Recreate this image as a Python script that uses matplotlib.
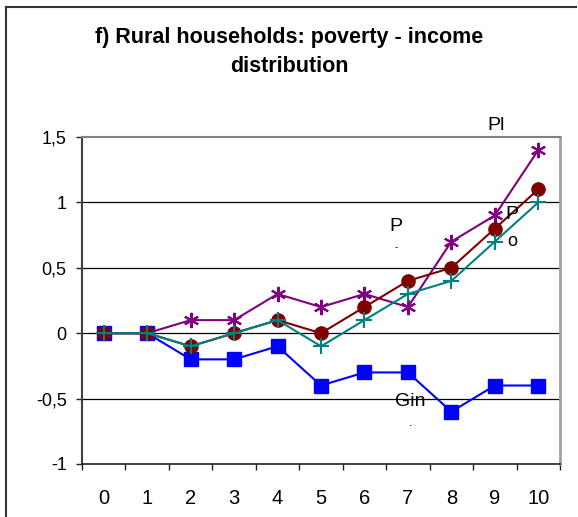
import matplotlib.pyplot as plt
from matplotlib.lines import Line2D

plt.rcParams['font.family'] = ['Liberation Sans', 'DejaVu Sans']

x = list(range(11))
xLabels = [str(i) for i in x]
gini = [0, 0, -0.2, -0.2, -0.1, -0.4, -0.3, -0.3, -0.6, -0.4, -0.4]
p2 = [0, 0, 0.1, 0.1, 0.3, 0.2, 0.3, 0.2, 0.7, 0.9, 1.4]
p1 = [0, 0, -0.1, 0, 0.1, 0, 0.2, 0.4, 0.5, 0.8, 1.1]
p0 = [0, 0, -0.1, 0, 0.1, -0.1, 0.1, 0.3, 0.4, 0.7, 1.0]
yTicks = [-1, -0.5, 0, 0.5, 1, 1.5]
yLabels = ['-1', '-0,5', '0', '0,5', '1', '1,5']

fig = plt.figure(figsize=(5.78, 5.17), dpi=100)
ax = fig.add_axes([82 / 578, 53 / 517, 478 / 578, 327 / 517])

ax.plot(x, gini, color='#0000ff', marker='s', markersize=10, lw=1.5, zorder=3)
ax.plot(x, p2, color='#800080', marker=(6, 2, 0), markersize=11, mew=1.5, lw=1.5, zorder=4)
ax.plot(x, p1, color='#800000', marker='o', markersize=9.5, lw=1.5, zorder=5)
ax.plot(x, p0, color='#008080', marker='+', markersize=11, mew=1.5, lw=1.5, zorder=6)

# truncated series labels
ax.text(9.02, 1.59, 'Pl', fontsize=14, ha='center', va='center', clip_on=False)
ax.text(6.73, 0.815, 'P', fontsize=14, ha='center', va='center')
ax.text(6.73, 0.66, '-', fontsize=7, ha='center', va='center')
ax.text(9.4, 0.905, 'P', fontsize=14, ha='center', va='center', zorder=7)
ax.text(9.4, 0.70, 'o', fontsize=13, ha='center', va='center', zorder=1)
ax.text(7.05, -0.52, 'Gin', fontsize=14, ha='center', va='center')
ax.text(7.05, -0.685, '.', fontsize=9, ha='center', va='center')

ax.set_xlim(-0.5, 10.5)
ax.set_ylim(-1, 1.5)
ax.set_xticks([i - 0.5 for i in range(12)])
ax.set_xticklabels([])
ax.set_xticks(x, minor=True)
ax.set_xticklabels(xLabels, minor=True)
ax.tick_params(axis='x', which='major', direction='out', length=4, width=1, color='#202020')
ax.tick_params(axis='x', which='minor', length=0, pad=18, labelsize=14.5)
ax.set_yticks(yTicks)
ax.set_yticklabels(yLabels)
ax.tick_params(axis='y', direction='out', length=4, width=1, color='#202020', pad=7, labelsize=13)

for yv in yTicks[1:-1]:
    ax.axhline(yv, color='black', lw=0.9, zorder=0)

ax.spines['left'].set_color('#404040')
ax.spines['left'].set_linewidth(1.5)
ax.spines['bottom'].set_color('#202020')
ax.spines['bottom'].set_linewidth(1.2)
ax.spines['top'].set_color('#808080')
ax.spines['top'].set_linewidth(1.5)
ax.spines['right'].set_color('#a0a0a0')
ax.spines['right'].set_linewidth(2)

fig.text(0.5, 1 - 38 / 517, 'f) Rural households: poverty - income', fontsize=15.5,
         fontweight='bold', ha='center', va='center')
fig.text(0.5, 1 - 66 / 517, 'distribution', fontsize=15.5,
         fontweight='bold', ha='center', va='center')

# outer frame (left and top only visible)
fig.add_artist(Line2D([6 / 578, 6 / 578], [0, 1 - 7 / 517], color='#333333', lw=1.5))
fig.add_artist(Line2D([6 / 578, 576 / 578], [1 - 7 / 517, 1 - 7 / 517], color='#333333', lw=1.5))

fig.savefig('out.png', dpi=100)
